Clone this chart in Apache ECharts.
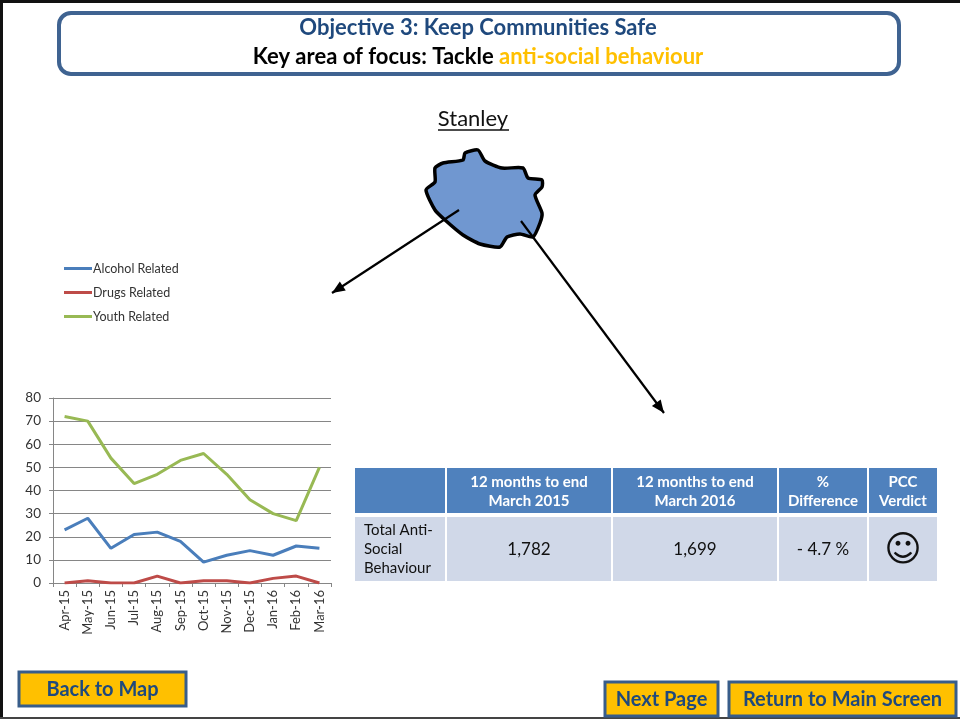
<!DOCTYPE html>
<html>
<head>
<meta charset="utf-8">
<style>
  html, body { margin: 0; padding: 0; background: #fff; }
  #chart { width: 960px; height: 719px; }
</style>
<script src="https://cdn.jsdelivr.net/npm/echarts@6/dist/echarts.min.js"></script>
</head>
<body>
<div id="chart"></div>
<script>
const FONT = 'Lato'

// chart data
const months = ['Apr-15', 'May-15', 'Jun-15', 'Jul-15', 'Aug-15', 'Sep-15', 'Oct-15', 'Nov-15', 'Dec-15', 'Jan-16', 'Feb-16', 'Mar-16']
const alcohol = [23, 28, 15, 21, 22, 18, 9, 12, 14, 12, 16, 15]
const drugs = [0, 1, 0, 0, 3, 0, 1, 1, 0, 2, 3, 0]
const youth = [72, 70, 54, 43, 47, 53, 56, 47, 36, 30, 27, 50]

// table text
const tableHead = ['', '12 months to end\nMarch 2015', '12 months to end\nMarch 2016', '%\nDifference', 'PCC\nVerdict']
const tableRow = ['Total Anti-\nSocial\nBehaviour', '1,782', '1,699', '- 4.7 %', '☺']

// table column edges
const colX = [355, 447, 613, 779, 869]
const colW = [90, 164, 164, 88, 68]

// outline of the area on the map
const blob = [[463, 160], [465, 153], [478, 150], [485, 161], [502, 168], [523, 168], [528, 178], [542, 180], [542, 187], [535, 195], [542, 213], [540, 223], [533, 237], [520, 234], [507, 237], [500, 247], [480, 244], [463, 235], [445, 220], [435, 210], [426, 190], [435, 182], [435, 168], [443, 163]]

function rect(x, y, w, h, fill, stroke, lineWidth, r) {
    return { type: 'rect', shape: { x, y, width: w, height: h, r: r || 0 }, style: { fill, stroke, lineWidth: lineWidth || 0 } }
}

function label(x, y, text, size, color, opt) {
    return {
        type: 'text',
        x,
        y,
        style: {
            text,
            fill: color,
            fontFamily: FONT,
            fontSize: size,
            fontWeight: 'normal',
            align: 'center',
            verticalAlign: 'middle',
            lineHeight: size + 4,
            ...opt
        }
    }
}

function arrow(x1, y1, x2, y2) { // 直线加箭头
    const a = Math.atan2(y2 - y1, x2 - x1)
    const len = 14
    const wing = 0.4
    return [
        { type: 'line', shape: { x1, y1, x2, y2 }, style: { stroke: '#000', lineWidth: 2.2 } },
        {
            type: 'polygon',
            shape: {
                points: [
                    [x2, y2],
                    [x2 - len * Math.cos(a - wing), y2 - len * Math.sin(a - wing)],
                    [x2 - len * Math.cos(a + wing), y2 - len * Math.sin(a + wing)]
                ]
            },
            style: { fill: '#000' }
        }
    ]
}

function button(x, y, w, h, text) {
    return [
        rect(x, y, w, h, '#ffc000', '#385d8a', 3),
        label(x + w / 2, y + h / 2 + 1, text, 20, '#1f497d', { fontWeight: 'bold' })
    ]
}

function setTable() {
    const out = []
    colX.forEach((x, i) => {
        out.push(rect(x, 468, colW[i], 45, '#4f81bd'))
        out.push(rect(x, 517, colW[i], 64, '#d0d8e8'))
        if (tableHead[i]) out.push(label(x + colW[i] / 2, 492, tableHead[i], 15, '#fff', { fontWeight: 'bold', lineHeight: 19 }))
        if (i === 0) {
            out.push(label(x + 9, 549, tableRow[i], 15, '#111', { align: 'left', lineHeight: 19 }))
        } else if (i === 4) {
            out.push(label(x + colW[i] / 2, 552, tableRow[i], 36, '#111', { fontFamily: 'DejaVu Sans' }))
        } else {
            out.push(label(x + colW[i] / 2, 550, tableRow[i], 17, '#111'))
        }
    })
    return out
}

const chart = echarts.init(document.getElementById('chart'))

chart.setOption({
    animation: false,
    backgroundColor: '#fff',
    textStyle: { fontFamily: FONT },
    legend: {
        orient: 'vertical',
        left: 64,
        top: 261,
        padding: 0,
        icon: 'rect',
        itemWidth: 28,
        itemHeight: 3,
        itemGap: 9,
        textStyle: { color: '#333', fontSize: 12.5, lineHeight: 15, fontFamily: FONT, padding: [0, 0, 0, -4] },
        data: ['Alcohol Related', 'Drugs Related', 'Youth Related']
    },
    grid: { left: 53, right: 629, top: 398, bottom: 136 },
    xAxis: {
        type: 'category',
        data: months,
        axisLine: { lineStyle: { color: '#868686' } },
        axisTick: { show: true, alignWithLabel: false, length: 4, lineStyle: { color: '#868686' } },
        axisLabel: { rotate: 90, color: '#333', fontSize: 13, fontFamily: FONT, margin: 7, interval: 0 }
    },
    yAxis: {
        type: 'value',
        min: 0,
        max: 80,
        interval: 10,
        axisLine: { show: true, lineStyle: { color: '#868686' } },
        axisTick: { show: true, length: 4, lineStyle: { color: '#868686' } },
        axisLabel: { color: '#333', fontSize: 13.5, fontFamily: FONT, margin: 12 },
        splitLine: { lineStyle: { color: '#868686' } }
    },
    series: [
        { name: 'Alcohol Related', type: 'line', data: alcohol, symbol: 'none', lineStyle: { color: '#4a7ebb', width: 3 }, itemStyle: { color: '#4a7ebb' } },
        { name: 'Drugs Related', type: 'line', data: drugs, symbol: 'none', lineStyle: { color: '#be4b48', width: 3 }, itemStyle: { color: '#be4b48' } },
        { name: 'Youth Related', type: 'line', data: youth, symbol: 'none', lineStyle: { color: '#98b954', width: 3 }, itemStyle: { color: '#98b954' } }
    ],
    graphic: [
        // 页面边框
        { type: 'line', shape: { x1: 0, y1: 1.5, x2: 960, y2: 1.5 }, style: { stroke: '#111', lineWidth: 3 } },
        { type: 'line', shape: { x1: 1.5, y1: 0, x2: 1.5, y2: 719 }, style: { stroke: '#111', lineWidth: 3 } },
        { type: 'line', shape: { x1: 0, y1: 718, x2: 960, y2: 718 }, style: { stroke: '#444', lineWidth: 2 } },

        // 标题框
        rect(59, 13, 840, 61, '#fff', '#3f6391', 4, 12),
        label(478, 28, 'Objective 3: Keep Communities Safe', 22, '#1f497d', { fontWeight: 'bold' }),
        {
            type: 'text',
            x: 478,
            y: 57,
            style: {
                text: '{a|Key area of focus: Tackle }{b|anti-social behaviour}',
                align: 'center',
                verticalAlign: 'middle',
                rich: {
                    a: { fill: '#000', fontFamily: FONT, fontSize: 22, fontWeight: 'bold' },
                    b: { fill: '#ffc000', fontFamily: FONT, fontSize: 22, fontWeight: 'bold' }
                }
            }
        },

        // 地图
        label(473, 119, 'Stanley', 22, '#111'),
        { type: 'line', shape: { x1: 438, y1: 130, x2: 509, y2: 130 }, style: { stroke: '#111', lineWidth: 1.5 } },
        { type: 'polygon', shape: { points: blob, smooth: 0.2 }, style: { fill: '#7097d0', stroke: '#000', lineWidth: 3.5 } },
        ...arrow(459, 210, 332, 293),
        ...arrow(521, 221, 664, 413),

        ...setTable(),

        ...button(19, 672, 167, 34, 'Back to Map'),
        ...button(605, 682, 113, 34, 'Next Page'),
        ...button(729, 682, 227, 34, 'Return to Main Screen')
    ]
})
</script>
</body>
</html>
